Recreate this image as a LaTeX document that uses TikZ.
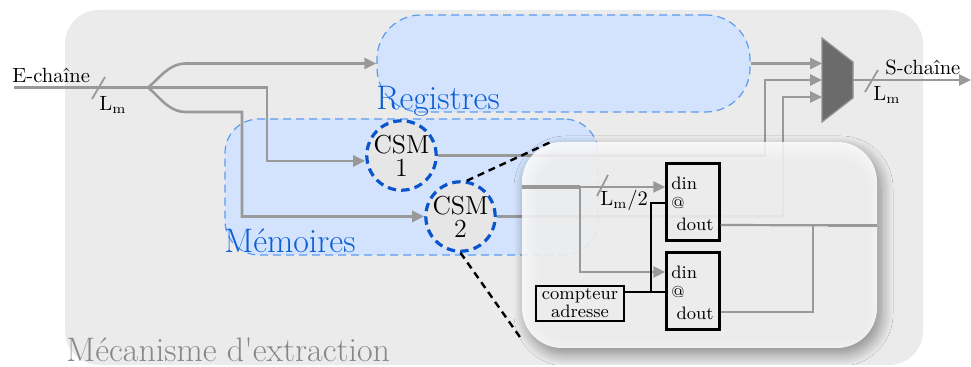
\documentclass[tikz,border=0pt]{standalone}
\usetikzlibrary{arrows.meta,shadows.blur}
\definecolor{bgc}{HTML}{EBEBEB}
\definecolor{lgray}{HTML}{999999}
\definecolor{bfill}{HTML}{D3E3FD}
\definecolor{bdash}{HTML}{5C9CF0}
\definecolor{btext}{HTML}{0A5FD6}
\definecolor{cborder}{HTML}{0A55CC}
\definecolor{muxc}{HTML}{6B6B6B}
\definecolor{cfill}{HTML}{E6E6E6}
\definecolor{mtext}{HTML}{888888}
\begin{document}
\begin{tikzpicture}[x=0.5pt,y=-0.5pt,
  wire/.style={draw=lgray,line width=1.3pt},
  wirethin/.style={draw=lgray,line width=1.1pt},
  wirethick/.style={draw=lgray,line width=1.9pt},
  arr/.style={-{Triangle[length=6pt,width=5.5pt]}},
  slashmark/.style={draw=lgray,line width=0.9pt},
  zone/.style={fill=bfill,draw=bdash,line width=0.6pt,dash pattern=on 4pt off 2.5pt,inner sep=0pt},
  csm/.style={circle,fill=cfill,draw=cborder,line width=1.6pt,dash pattern=on 4.2pt off 2.6pt,minimum size=30pt,inner sep=0pt,align=center,font=\fontsize{13}{11.5}\selectfont},
  memb/.style={draw=black,line width=1.2pt,minimum width=26.5pt,minimum height=38.5pt,inner sep=0pt},
  blk/.style={draw=black,line width=1.2pt},
  zline/.style={draw=black,line width=1.2pt,dash pattern=on 3.5pt off 2.5pt},
  lbl/.style={font=\fontsize{10.3}{12}\selectfont,inner sep=0pt},
  small/.style={font=\fontsize{9}{9}\selectfont,inner sep=0pt},
  bigblue/.style={font=\fontsize{17}{20}\selectfont,text=btext,inner sep=0pt},
]
\useasboundingbox (0,0) rectangle (971,367);
\fill[bgc,rounded corners=17pt] (65,10) rectangle (923,365);

% zones
\node[zone,rounded corners=22pt,minimum width=186.5pt,minimum height=48.5pt] (reg) at (563.5,63.5) {};
\node[zone,rounded corners=17pt,minimum width=186.5pt,minimum height=68pt] (mem) at (411.5,187) {};
\node[bigblue,anchor=base west] (regl) at (376,110) {Registres};
\node[bigblue,anchor=base west] (meml) at (224,253) {Mémoires};

% CSM
\node[csm] (csm1) at (401.5,155.5) {CSM\\1};
\node[csm] (csm2) at (460.5,216.5) {CSM\\2};

% coordinates
\coordinate (ein) at (14,87.5);
\coordinate (split) at (148,87.5);
\coordinate (mi1) at (822,63.5);
\coordinate (mi2) at (822,80);
\coordinate (mi3) at (822,97);
\coordinate (k2) at (765,80);
\coordinate (k3) at (783,97);
\coordinate (mo) at (853,80);
\coordinate (sout) at (971,80);

% wires
\draw[wire] (ein) -- (split);
\draw[wire,arr] (split) .. controls (158,80) and (168,63.5) .. (186,63.5) -- (reg.west);
\draw[wire,arr] (split) -- (267,87.5) |- ([yshift=-2.75pt]csm1.west);
\draw[wire,arr] (split) .. controls (158,95) and (168,112) .. (186,112) -- (242,112) |- (csm2.west);
\draw[wire,arr] (reg.east) -- (mi1);
\draw[wire,arr] (csm1.east) -| (k2) -- (mi2);
\draw[wire,arr] (csm2.east) -| (k3) -- (mi3);

% mux
\filldraw[fill=muxc,draw=gray!85,line width=0.6pt] (822,38) -- (853,62) -- (853,98) -- (822,122) -- cycle;
\draw[wire,arr] (mo) -- (sout);
\draw[slashmark] (865,92) -- (878,70);
\node[lbl,anchor=base west] (sch) at (885,75) {S-chaîne};
\node[lbl,anchor=base west] (lm2) at (873,101) {L$_\mathrm{m}$};

\draw[slashmark] (92,99) -- (105,77);
\node[lbl,anchor=base west] (ech) at (12,83) {E-chaîne};
\node[lbl,anchor=base west] (lm1) at (99,111) {L$_\mathrm{m}$};

% zoom box
\node[draw=none,fill=white,fill opacity=0.85,rounded corners=20pt,minimum width=177.5pt,minimum height=103pt,
  blur shadow={shadow xshift=2pt,shadow yshift=-3pt,shadow blur radius=6pt,shadow blur steps=14,shadow opacity=50}] (zb) at (699.5,245) {};

\coordinate (zin) at (522,187);
\coordinate (zsplit) at (580,187);
\node[memb] (m1) at (693,202) {};
\node[memb] (m2) at (693,291) {};
\node[draw=black,line width=1.2pt,minimum width=44pt,minimum height=17.5pt,inner sep=0pt,align=center,font=\fontsize{9}{7.6}\selectfont] (cpt) at (580,303.5) {compteur\\adresse};

\draw[wirethick] (zin) -- (zsplit);
\draw[wirethin,arr] (zsplit) -- (zsplit -| m1.west);
\draw[wirethin,arr] (zsplit) |- ([yshift=9.5pt]m2.west);
\draw[slashmark] (597,196) -- (608,175);
\node[lbl,anchor=base west] (lm3) at (600,206) {L$_\mathrm{m}$/2};

\coordinate (cj) at (651,292);
\draw[blk] ([yshift=5.75pt]cpt.east) -- ([yshift=5.75pt]cpt.east -| m2.west);
\draw[blk] (cj) |- ([yshift=-0.5pt]m1.west);

\node[small,anchor=base west] (t1a) at (671,190) {din};
\node[font=\fontsize{8}{8}\selectfont,inner sep=0pt,anchor=west] (t1b) at (671,203) {@};
\node[small,anchor=base east] (t1c) at (714,231) {dout};
\node[small,anchor=base west] (t2a) at (671,279) {din};
\node[font=\fontsize{8}{8}\selectfont,inner sep=0pt,anchor=west] (t2b) at (671,292) {@};
\node[small,anchor=base east] (t2c) at (714,320) {dout};

\coordinate (zout) at (877,225.5);
\draw[wirethin] ([yshift=-11.5pt]m1.east) -- (zout);
\draw[wirethick] (828,225.5) -- (zout);
\draw[wirethin] ([yshift=-10.5pt]m2.east) -| (813,225.5);

% zoom lines
\coordinate (zc1) at (553,141);
\coordinate (zc2) at (522,340);
\draw[zline] (csm2.80) -- (zc1);
\draw[zline] (csm2.south) -- (zc2);

\node[font=\fontsize{17}{20}\selectfont,text=mtext,inner sep=0pt,anchor=base west] (mec) at (66,362) {Mécanisme d\textquotesingle extraction};
\end{tikzpicture}
\end{document}
